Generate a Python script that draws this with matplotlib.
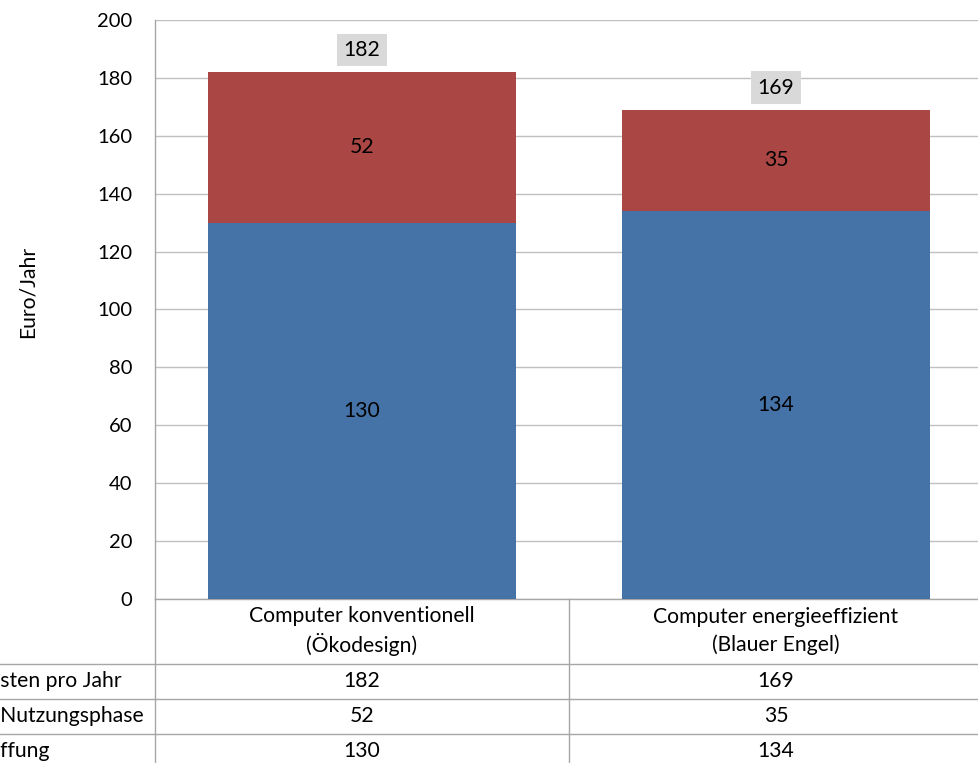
import matplotlib
matplotlib.use("Agg")
import matplotlib.pyplot as plt
from matplotlib.lines import Line2D
from matplotlib.transforms import blended_transform_factory

plt.rcParams['font.family'] = ['Lato', 'DejaVu Sans']

categories = ["Computer konventionell\n(Ökodesign)", "Computer energieeffizient\n(Blauer Engel)"]
anschaffung = [130, 134]
nutzung = [52, 35]
gesamt = [182, 169]
row_labels = ["Gesamtkosten pro Jahr", "Kosten Nutzungsphase", "Kosten Anschaffung"]
hidden_prefix = ["Gesamtko", "Kosten ", "Kosten Anscha"]
yticks = [0, 20, 40, 60, 80, 100, 120, 140, 160, 180, 200]

W, H = 979, 763
fig = plt.figure(figsize=(W / 100, H / 100), dpi=100)
fig.patch.set_facecolor("white")

x0, x1 = 155, 983
ytop, ybot = 20, 599
ax = fig.add_axes([x0 / W, (H - ybot) / H, (x1 - x0) / W, (ybot - ytop) / H])

blue = "#4573A7"
red = "#AA4643"
grid = "#C0C0C0"
fs = 15.2
fst = 14.5

xs = [0, 1]
width = 0.742
ax.bar(xs, anschaffung, width, color=blue, zorder=3)
ax.bar(xs, nutzung, width, bottom=anschaffung, color=red, zorder=3)
ax.set_xlim(-0.5, 1.5)
ax.set_ylim(0, 200)
ax.set_yticks(yticks)
ax.set_xticks([])
ax.yaxis.grid(True, color=grid, linewidth=1.0, zorder=0)
ax.tick_params(axis="y", length=0, pad=16.5, labelsize=fst)
for s in ["top", "right"]:
    ax.spines[s].set_visible(False)
for s in ["left", "bottom"]:
    ax.spines[s].set_color("#A6A6A6")
    ax.spines[s].set_linewidth(1.0)

for i in range(2):
    ax.text(xs[i], anschaffung[i] / 2, str(anschaffung[i]), ha="center", va="center", fontsize=fs, zorder=4)
    ax.text(xs[i], anschaffung[i] + nutzung[i] / 2, str(nutzung[i]), ha="center", va="center", fontsize=fs, zorder=4)
    ax.annotate(str(gesamt[i]), (xs[i], gesamt[i]), xytext=(0, 16), textcoords="offset points",
                ha="center", va="center", fontsize=fs, zorder=4,
                bbox=dict(boxstyle="square,pad=0.3", fc="#D9D9D9", ec="none"))

fig.text(28 / W, 1 - 292 / H, "Euro/Jahr", rotation=90, ha="center", va="center", fontsize=fs)

# data table
tr = blended_transform_factory(ax.transData, fig.transFigure)
line_col = "#A6A6A6"
row_lines = [664, 699, 734, 769]
for yl in row_lines[:3]:
    fig.add_artist(Line2D([0, 1], [1 - yl / H, 1 - yl / H], transform=fig.transFigure, color=line_col, lw=1.0))
fig.add_artist(Line2D([x0 / W, x0 / W], [0, 1 - ybot / H], transform=fig.transFigure, color=line_col, lw=1.0))
fig.add_artist(Line2D([569 / W, 569 / W], [0, 1 - ybot / H], transform=fig.transFigure, color=line_col, lw=1.0))

for i in range(2):
    fig.text(xs[i], 1 - 631 / H, categories[i], transform=tr, ha="center", va="center",
             fontsize=fs, linespacing=1.4)
rows = [gesamt, nutzung, anschaffung]
for r, vals in enumerate(rows):
    yc = 1 - (row_lines[r] + 17) / H
    for i in range(2):
        fig.text(xs[i], yc, str(vals[i]), transform=tr, ha="center", va="center", fontsize=fs)

renderer = fig.canvas.get_renderer()
for r, lab in enumerate(row_labels):
    yc = 1 - (row_lines[r] + 17) / H
    probe = fig.text(0, 0, hidden_prefix[r], fontsize=fs)
    wpx = probe.get_window_extent(renderer).width
    probe.remove()
    fig.text((-wpx) / W, yc, lab, ha="left", va="center", fontsize=fs)

fig.savefig("out.png", dpi=100)
